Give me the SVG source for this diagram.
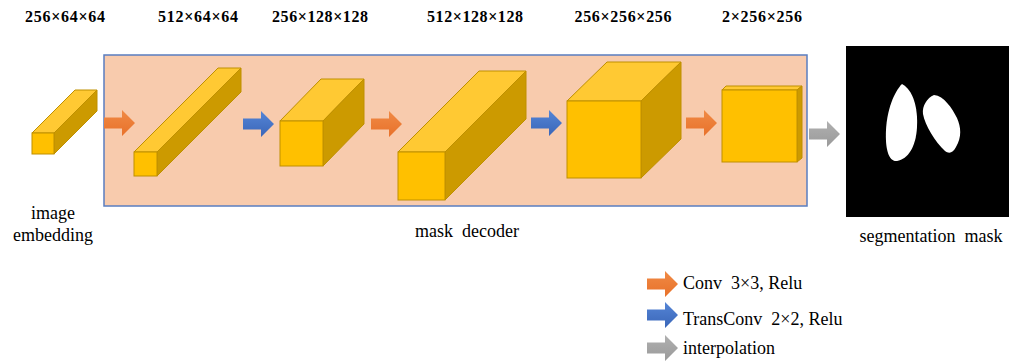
<svg xmlns="http://www.w3.org/2000/svg" width="1009" height="361" viewBox="0 0 1009 361">
<defs>
<linearGradient id="gO" x1="0" y1="0" x2="0" y2="1"><stop offset="0" stop-color="#F08A45"/><stop offset="1" stop-color="#E8712A"/></linearGradient>
<linearGradient id="gB" x1="0" y1="0" x2="0" y2="1"><stop offset="0" stop-color="#5585D6"/><stop offset="1" stop-color="#3A66B8"/></linearGradient>
<linearGradient id="gG" x1="0" y1="0" x2="0" y2="1"><stop offset="0" stop-color="#B0B0B0"/><stop offset="1" stop-color="#9A9A9A"/></linearGradient>
<path id="arr" d="M0,-5.5 H18 V-13 L31,0 L18,13 V5.5 H0 Z"/>
</defs>
<style>
.front{fill:#FFC000;stroke:#BF9000;stroke-width:1}
.top{fill:#FFC933;stroke:#BF9000;stroke-width:1}
.side{fill:#CC9A00;stroke:#BF9000;stroke-width:1}
.dim{font-family:"Liberation Serif","Times New Roman",serif;font-weight:bold;font-size:16px;fill:#000;text-anchor:middle}
.lbl{font-family:"Liberation Serif","Times New Roman",serif;font-size:18px;fill:#000;text-anchor:middle}
.leg{font-family:"Liberation Serif","Times New Roman",serif;font-size:18px;fill:#000}
.o{fill:url(#gO)}.b{fill:url(#gB)}.g{fill:url(#gG)}
</style>
<rect width="1009" height="361" fill="#fff"/>
<g id="decoder-panel"><rect x="104" y="55" width="703" height="151" fill="#F8CBAD" stroke="#5A7EC0" stroke-width="1.5"/></g>

<g id="dims">
<text class="dim" x="65" y="22" textLength="80" lengthAdjust="spacing">256×64×64</text>
<text class="dim" x="198" y="22" textLength="80" lengthAdjust="spacing">512×64×64</text>
<text class="dim" x="320" y="22" textLength="96" lengthAdjust="spacing">256×128×128</text>
<text class="dim" x="475" y="22" textLength="96" lengthAdjust="spacing">512×128×128</text>
<text class="dim" x="623" y="22" textLength="97" lengthAdjust="spacing">256×256×256</text>
<text class="dim" x="762" y="22" textLength="80" lengthAdjust="spacing">2×256×256</text>
</g>

<g id="cube1">
<polygon class="top" points="32,133 75,90 97,90 54,133"/>
<polygon class="side" points="54,133 97,90 97,111 54,154"/>
<rect class="front" x="32" y="133" width="22" height="21"/>
</g>
<g id="cube2">
<polygon class="top" points="134,152 218,68 241,68 157,152"/>
<polygon class="side" points="157,152 241,68 241,92 157,176"/>
<rect class="front" x="134" y="152" width="23" height="24"/>
</g>
<g id="cube3">
<polygon class="top" points="280,121 321,79 364,79 323,121"/>
<polygon class="side" points="323,121 364,79 364,124 323,166"/>
<rect class="front" x="280" y="121" width="43" height="45"/>
</g>
<g id="cube4">
<polygon class="top" points="398,152 479,71 526,71 445,152"/>
<polygon class="side" points="445,152 526,71 526,119 445,200"/>
<rect class="front" x="398" y="152" width="47" height="48"/>
</g>
<g id="cube5">
<polygon class="top" points="567,101 607,62 681,62 641,101"/>
<polygon class="side" points="641,101 681,62 681,139 641,178"/>
<rect class="front" x="567" y="101" width="74" height="77"/>
</g>
<g id="cube6">
<polygon class="top" points="722,90 726,86 802,86 797,90"/>
<polygon class="side" points="797,90 802,86 802,158 797,162"/>
<rect class="front" x="722" y="90" width="75" height="72"/>
</g>

<g id="mask">
<rect x="846" y="46" width="163" height="171" fill="#000"/>
<path d="M902,84 C894,92 887,110 886,130 C885,150 889,162 897,161 C908,159 916,147 917,127 C918,107 913,90 902,84 Z" fill="#fff"/>
<path d="M934,95 C927,98 922,106 923,114 C925,125 935,142 945,151 C949,154 953,153 956,147 C962,137 961,127 957,118 C952,108 944,96 934,95 Z" fill="#fff"/>
</g>

<g id="connectors">
<use href="#arr" class="o" transform="translate(104,123)"/>
<use href="#arr" class="b" transform="translate(243,124)"/>
<use href="#arr" class="o" transform="translate(371,124)"/>
<use href="#arr" class="b" transform="translate(531,123)"/>
<use href="#arr" class="o" transform="translate(686,123)"/>
<use href="#arr" class="g" transform="translate(809,134)"/>
</g>

<g id="labels">
<text class="lbl" x="53" y="219">image</text>
<text class="lbl" x="53" y="241">embedding</text>
<text class="lbl" x="467" y="237" xml:space="preserve">mask  decoder</text>
<text class="lbl" x="931" y="242" xml:space="preserve">segmentation  mask</text>
</g>

<g id="legend">
<use href="#arr" class="o" transform="translate(647,284)"/>
<use href="#arr" class="b" transform="translate(647,315)"/>
<use href="#arr" class="g" transform="translate(647,348)"/>
<text class="leg" x="683" y="289" xml:space="preserve">Conv  3×3, Relu</text>
<text class="leg" x="683" y="325" xml:space="preserve">TransConv  2×2, Relu</text>
<text class="leg" x="683" y="354">interpolation</text>
</g>
</svg>
